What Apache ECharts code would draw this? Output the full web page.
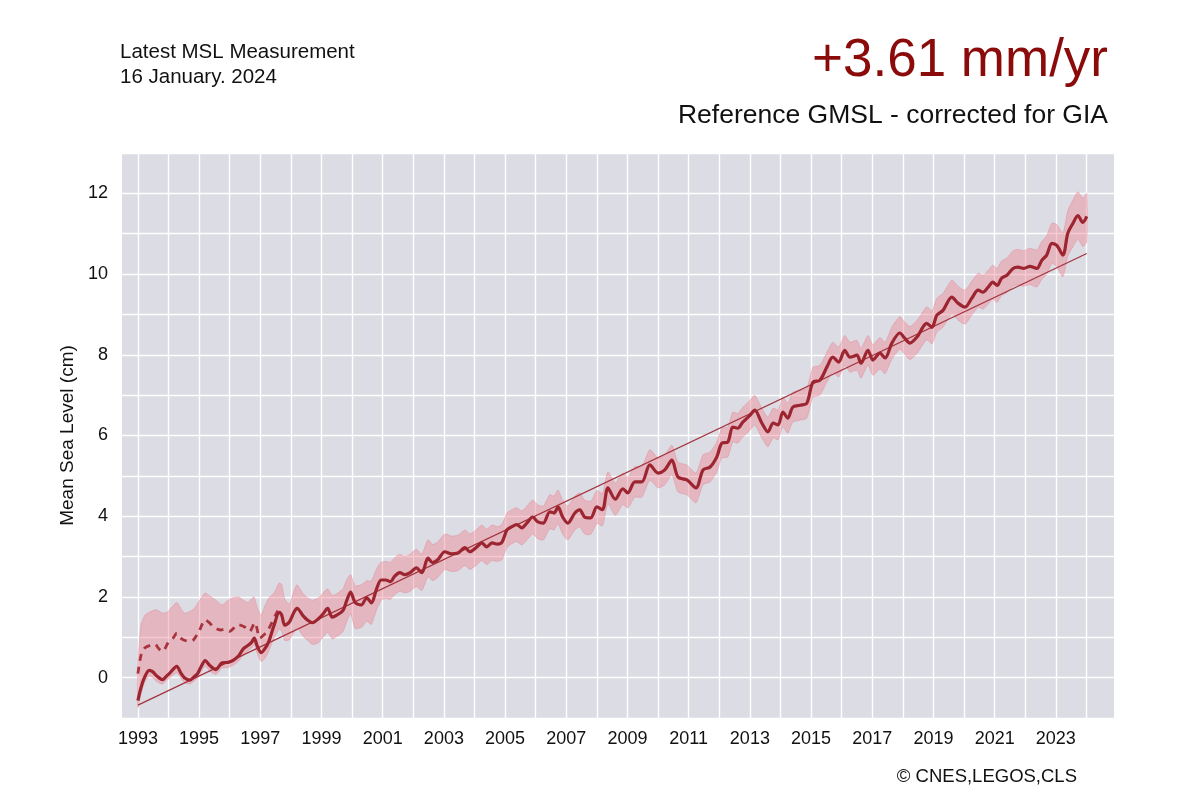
<!DOCTYPE html>
<html lang="en">
  <head>
    <meta charset="UTF-8" />
    <title>Reference GMSL</title>
    <script src="https://cdnjs.cloudflare.com/ajax/libs/echarts/6.0.0/echarts.min.js"></script>
    <style>
      html, body { margin: 0; padding: 0; background: #fff; }
      #main { width: 1200px; height: 800px; }
    </style>
  </head>
  <body>
    <div id="main"></div>
    <script>
      // dates (decimal years) of the GMSL series
      var years = [
        1993.00, 1993.10, 1993.23, 1993.37, 1993.48, 1993.62, 1993.80, 1993.95, 1994.05, 1994.27,
        1994.40, 1994.52, 1994.70, 1994.85, 1994.95, 1995.05, 1995.20, 1995.35, 1995.55, 1995.75,
        1995.95, 1996.10, 1996.30, 1996.45, 1996.60, 1996.72, 1996.80, 1996.90, 1997.03, 1997.15,
        1997.28, 1997.45, 1997.62, 1997.70, 1997.80, 1997.95, 1998.10, 1998.20, 1998.40, 1998.55,
        1998.70, 1998.90, 1999.05, 1999.20, 1999.35, 1999.50, 1999.70, 1999.82, 1999.95, 2000.10,
        2000.30, 2000.48, 2000.63, 2000.80, 2000.95, 2001.10, 2001.25, 2001.40, 2001.56, 2001.72,
        2001.90, 2002.10, 2002.28, 2002.48, 2002.63, 2002.80, 2003.03, 2003.25, 2003.46, 2003.69,
        2003.85, 2004.08, 2004.24, 2004.40, 2004.57, 2004.75, 2004.90, 2005.06, 2005.22, 2005.38,
        2005.55, 2005.71, 2005.90, 2006.07, 2006.25, 2006.46, 2006.60, 2006.73, 2006.88, 2007.05,
        2007.28, 2007.44, 2007.60, 2007.80, 2008.00, 2008.18, 2008.36, 2008.60, 2008.85, 2009.01,
        2009.24, 2009.47, 2009.73, 2010.00, 2010.22, 2010.45, 2010.65, 2010.94, 2011.24, 2011.47,
        2011.70, 2011.92, 2012.08, 2012.28, 2012.44, 2012.60, 2012.77, 2013.00, 2013.16, 2013.39,
        2013.59, 2013.76, 2013.92, 2014.08, 2014.24, 2014.40, 2014.64, 2014.86, 2015.06, 2015.29,
        2015.52, 2015.71, 2015.90, 2016.10, 2016.27, 2016.50, 2016.63, 2016.86, 2017.02, 2017.25,
        2017.42, 2017.64, 2017.90, 2018.06, 2018.23, 2018.46, 2018.78, 2018.95, 2019.11, 2019.31,
        2019.60, 2019.80, 2020.03, 2020.25, 2020.46, 2020.62, 2020.78, 2020.94, 2021.08, 2021.23,
        2021.40, 2021.60, 2021.76, 2021.95, 2022.15, 2022.38, 2022.54, 2022.70, 2022.87, 2023.03,
        2023.23, 2023.39, 2023.56, 2023.72, 2023.88, 2024.01
      ];
      // GMSL corrected for GIA (cm)
      var gmsl = [
        -0.57, -0.25, 0.03, 0.18, 0.15, 0.04, -0.05, 0.05, 0.12, 0.28,
        0.12, 0.00, -0.06, 0.03, 0.10, 0.25, 0.42, 0.30, 0.20, 0.37,
        0.38, 0.42, 0.55, 0.72, 0.80, 0.88, 0.98, 0.78, 0.62, 0.72,
        0.90, 1.30, 1.62, 1.55, 1.30, 1.38, 1.62, 1.72, 1.53, 1.42,
        1.36, 1.46, 1.58, 1.72, 1.50, 1.55, 1.66, 1.90, 2.12, 1.86,
        1.80, 1.98, 1.85, 2.20, 2.42, 2.42, 2.38, 2.52, 2.60, 2.55,
        2.60, 2.72, 2.60, 2.96, 2.85, 2.92, 3.12, 3.07, 3.09, 3.22,
        3.12, 3.24, 3.34, 3.24, 3.34, 3.31, 3.36, 3.66, 3.74, 3.79,
        3.71, 3.83, 3.98, 3.86, 3.83, 4.11, 4.08, 4.23, 3.98, 3.83,
        4.08, 4.16, 3.98, 3.96, 4.23, 4.16, 4.70, 4.42, 4.68, 4.58,
        4.85, 4.85, 5.27, 5.07, 5.15, 5.39, 4.97, 4.90, 4.70, 5.15,
        5.22, 5.47, 5.81, 5.84, 6.21, 6.18, 6.33, 6.50, 6.63, 6.31,
        6.09, 6.31, 6.26, 6.58, 6.43, 6.70, 6.75, 6.80, 7.32, 7.37,
        7.70, 7.94, 7.82, 8.11, 7.94, 7.99, 7.79, 8.11, 7.87, 8.04,
        7.92, 8.29, 8.54, 8.41, 8.29, 8.44, 8.78, 8.68, 8.98, 9.10,
        9.43, 9.28, 9.18, 9.40, 9.60, 9.55, 9.67, 9.80, 9.72, 9.90,
        9.97, 10.14, 10.17, 10.14, 10.19, 10.14, 10.34, 10.47, 10.76, 10.71,
        10.47, 11.01, 11.26, 11.45, 11.28, 11.43
      ];
      // lower edge of the uncertainty envelope (cm)
      var bandLow = [
        -0.75, -0.40, -0.10, 0.04, 0.00, -0.10, -0.16, -0.06, 0.00, 0.12,
        0.00, -0.12, -0.16, -0.08, 0.00, 0.12, 0.28, 0.16, 0.08, 0.24,
        0.25, 0.30, 0.42, 0.58, 0.66, 0.74, 0.82, 0.60, 0.40, 0.48,
        0.66, 0.98, 1.20, 1.15, 0.92, 0.94, 1.12, 1.24, 1.02, 0.92,
        0.82, 0.86, 1.00, 1.12, 0.96, 1.02, 1.14, 1.38, 1.58, 1.22,
        1.24, 1.40, 1.32, 1.68, 1.92, 1.96, 1.94, 2.06, 2.14, 2.10,
        2.14, 2.26, 2.16, 2.50, 2.40, 2.48, 2.68, 2.63, 2.65, 2.78,
        2.68, 2.80, 2.90, 2.80, 2.90, 2.88, 2.92, 3.22, 3.32, 3.37,
        3.29, 3.41, 3.56, 3.44, 3.41, 3.69, 3.66, 3.81, 3.56, 3.41,
        3.66, 3.74, 3.56, 3.55, 3.82, 3.76, 4.30, 4.02, 4.29, 4.20,
        4.47, 4.47, 4.89, 4.70, 4.78, 5.02, 4.60, 4.53, 4.33, 4.78,
        4.85, 5.10, 5.44, 5.47, 5.84, 5.81, 5.96, 6.13, 6.26, 5.94,
        5.72, 5.94, 5.89, 6.21, 6.06, 6.33, 6.38, 6.43, 6.95, 7.00,
        7.33, 7.57, 7.45, 7.74, 7.57, 7.62, 7.42, 7.74, 7.49, 7.65,
        7.53, 7.89, 8.14, 8.01, 7.88, 8.03, 8.37, 8.27, 8.56, 8.68,
        9.01, 8.86, 8.76, 8.98, 9.18, 9.13, 9.25, 9.38, 9.30, 9.47,
        9.54, 9.70, 9.73, 9.70, 9.74, 9.68, 9.87, 9.99, 10.26, 10.19,
        9.93, 10.45, 10.68, 10.86, 10.68, 10.80
      ];
      // upper edge of the uncertainty envelope (cm)
      var bandHigh = [
        0.35, 1.30, 1.55, 1.62, 1.66, 1.68, 1.60, 1.62, 1.70, 1.86,
        1.72, 1.60, 1.64, 1.72, 1.84, 1.96, 2.10, 2.02, 1.92, 1.80,
        1.92, 1.98, 2.00, 1.92, 1.86, 1.96, 2.00, 1.74, 1.55, 1.78,
        1.98, 2.10, 2.35, 2.30, 1.95, 1.82, 2.15, 2.30, 2.08, 1.98,
        1.92, 1.98, 2.10, 2.20, 2.04, 2.08, 2.20, 2.42, 2.55, 2.28,
        2.30, 2.40, 2.40, 2.70, 2.86, 2.88, 2.86, 2.98, 3.06, 3.00,
        3.06, 3.18, 3.06, 3.42, 3.30, 3.36, 3.56, 3.51, 3.53, 3.66,
        3.56, 3.68, 3.78, 3.68, 3.78, 3.74, 3.80, 4.08, 4.16, 4.21,
        4.13, 4.25, 4.40, 4.28, 4.25, 4.53, 4.50, 4.65, 4.40, 4.25,
        4.50, 4.58, 4.40, 4.37, 4.64, 4.56, 5.10, 4.82, 5.07, 4.96,
        5.23, 5.23, 5.65, 5.44, 5.52, 5.76, 5.34, 5.27, 5.07, 5.52,
        5.59, 5.84, 6.18, 6.21, 6.58, 6.55, 6.70, 6.87, 7.00, 6.68,
        6.46, 6.68, 6.63, 6.95, 6.80, 7.07, 7.12, 7.17, 7.69, 7.74,
        8.07, 8.31, 8.19, 8.48, 8.31, 8.36, 8.16, 8.48, 8.25, 8.43,
        8.31, 8.69, 8.94, 8.81, 8.70, 8.85, 9.19, 9.09, 9.40, 9.52,
        9.85, 9.70, 9.60, 9.82, 10.02, 9.97, 10.09, 10.22, 10.14, 10.33,
        10.40, 10.58, 10.61, 10.58, 10.64, 10.60, 10.81, 10.95, 11.26, 11.23,
        11.01, 11.57, 11.84, 12.04, 11.88, 12.00
      ];
      // early part without the TOPEX-A drift correction (dashed)
      var earlyYears = [
        1993.00, 1993.10, 1993.20, 1993.33, 1993.55, 1993.68, 1993.80, 1994.00, 1994.15, 1994.27,
        1994.40, 1994.54, 1994.70, 1994.80, 1995.00, 1995.20, 1995.35, 1995.45, 1995.70, 1995.85,
        1996.00, 1996.27, 1996.50, 1996.65, 1996.82, 1996.99, 1997.10, 1997.26, 1997.53, 1997.67
      ];
      var earlyGmsl = [
        0.10, 0.55, 0.72, 0.78, 0.83, 0.72, 0.65, 0.88, 0.98, 1.10,
        0.98, 0.92, 0.90, 0.92, 1.15, 1.43, 1.35, 1.27, 1.18, 1.20,
        1.15, 1.31, 1.25, 1.15, 1.36, 0.98, 1.05, 1.19, 1.60, 1.80
      ];
      // linear trend, +3.61 mm/yr
      var trendYears = [1993.0, 2024.01];
      var trendGmsl = [-0.68, 10.51];

      var gridYears = [];
      for (var y = 1993; y <= 2024; y++) gridYears.push(y);
      var labelYears = gridYears.filter(function (y) { return y % 2 === 1; });

      function pairs(xs, ys) {
        return xs.map(function (x, i) { return [x, ys[i]]; });
      }

      var font = "Arial, 'Liberation Sans', sans-serif";
      var lineColor = "#9c2530";

      var myChart = echarts.init(document.getElementById("main"));
      var option = {
        animation: false,
        textStyle: { fontFamily: font },
        title: [
          {
            text: "Latest MSL Measurement\n16 January. 2024",
            left: 115,
            top: 35,
            textStyle: { fontSize: 20.5, lineHeight: 25, fontWeight: "normal", color: "#111", fontFamily: font },
          },
          {
            text: "+3.61 mm/yr",
            right: 87,
            top: 30,
            textStyle: { fontSize: 53, fontWeight: "normal", color: "#8b0a0a", fontFamily: font },
          },
          {
            text: "Reference GMSL - corrected for GIA",
            right: 87,
            top: 97,
            textStyle: { fontSize: 26.5, fontWeight: "normal", color: "#111", fontFamily: font },
          },
          {
            text: "© CNES,LEGOS,CLS",
            right: 118,
            top: 762,
            textStyle: { fontSize: 18.5, fontWeight: "normal", color: "#111", fontFamily: font },
          },
        ],
        grid: {
          left: 122,
          right: 86,
          top: 153,
          bottom: 82,
          show: true,
          backgroundColor: "#dbdce4",
          borderWidth: 0,
        },
        xAxis: {
          type: "value",
          min: 1992.48,
          max: 2024.9,
          axisLine: { show: false },
          axisTick: { show: false, customValues: gridYears },
          axisLabel: {
            customValues: labelYears,
            fontSize: 18,
            color: "#111",
            margin: 12,
            formatter: function (v) { return String(v); },
          },
          splitLine: { show: true, lineStyle: { color: "#ffffff", width: 1.4 } },
        },
        yAxis: {
          type: "value",
          min: -1,
          max: 13,
          interval: 1,
          name: "Mean Sea Level (cm)",
          nameLocation: "middle",
          nameGap: 41,
          nameTextStyle: { fontSize: 19, color: "#111", fontFamily: font },
          axisLine: { show: false },
          axisTick: { show: false },
          axisLabel: {
            fontSize: 18,
            color: "#111",
            margin: 14,
            formatter: function (v) {
              return v >= 0 && v <= 12 && v % 2 === 0 ? String(v) : "";
            },
          },
          splitLine: { show: true, lineStyle: { color: "#ffffff", width: 1.4 } },
        },
        series: [
          {
            type: "custom",
            name: "uncertainty",
            silent: true,
            data: [[years[0], bandLow[0]]],
            renderItem: function (params, api) {
              var pts = [];
              for (var i = 0; i < years.length; i++) pts.push(api.coord([years[i], bandHigh[i]]));
              for (var j = years.length - 1; j >= 0; j--) pts.push(api.coord([years[j], bandLow[j]]));
              return {
                type: "polygon",
                shape: { points: pts, smooth: 0.2 },
                style: { fill: "rgba(238,128,142,0.42)", stroke: "rgba(225,120,135,0.35)", lineWidth: 1 },
              };
            },
            z: 1,
          },
          {
            type: "line",
            name: "trend",
            data: pairs(trendYears, trendGmsl),
            showSymbol: false,
            lineStyle: { color: "#a3333d", width: 1.2 },
            z: 2,
          },
          {
            type: "line",
            name: "uncorrected",
            data: pairs(earlyYears, earlyGmsl),
            showSymbol: false,
            smooth: 0.3,
            lineStyle: { color: "#a8343e", width: 2.8, type: [7, 6] },
            z: 3,
          },
          {
            type: "line",
            name: "GMSL",
            data: pairs(years, gmsl),
            showSymbol: false,
            smooth: 0.3,
            lineStyle: { color: lineColor, width: 3.2 },
            z: 4,
          },
        ],
      };
      myChart.setOption(option);
    </script>
  </body>
</html>
